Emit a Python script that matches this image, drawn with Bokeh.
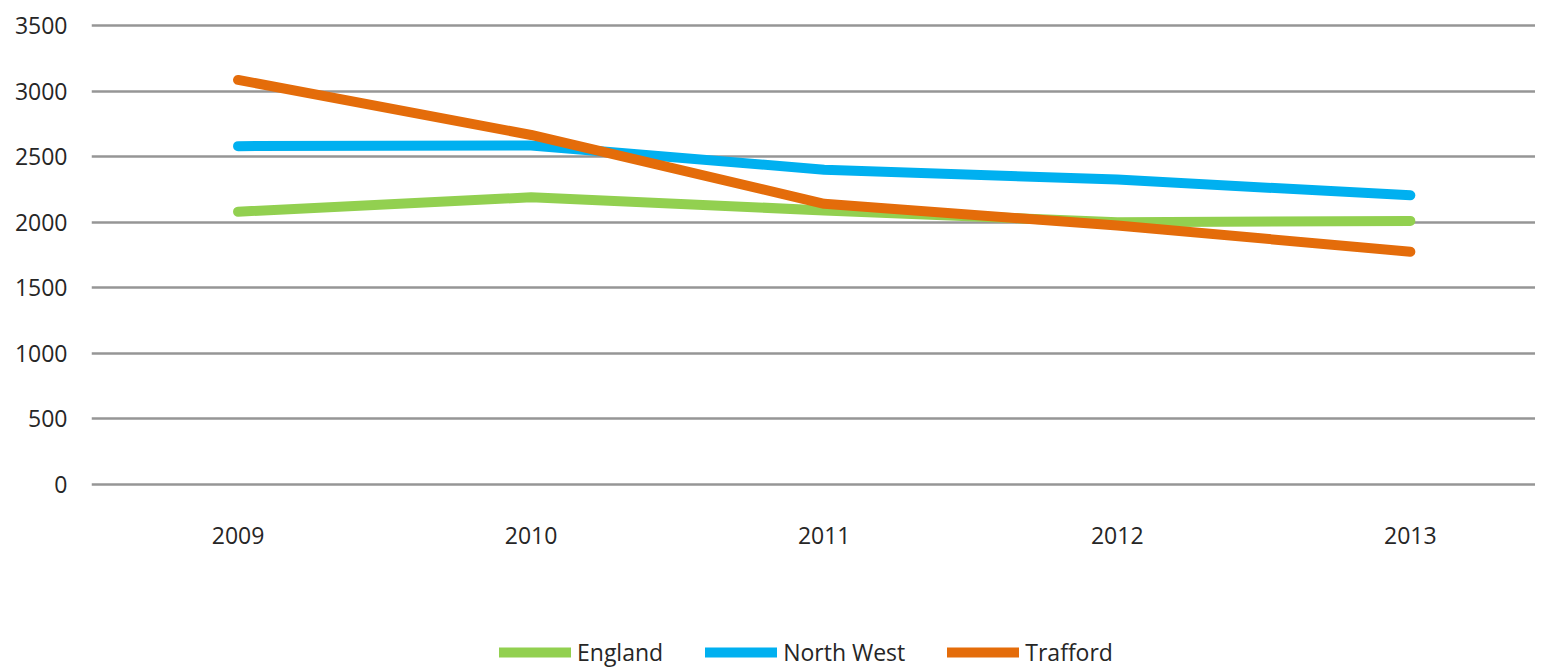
from bokeh.plotting import figure
from bokeh.models import Range1d, FixedTicker, Legend, LegendItem
from bokeh.layouts import column
from bokeh.embed import file_html
from bokeh.resources import INLINE

years = ["2009", "2010", "2011", "2012", "2013"]
england = [2080, 2190, 2090, 2000, 2010]
north_west = [2580, 2585, 2400, 2325, 2205]
trafford = [3085, 2665, 2140, 1975, 1775]
y_ticks = [0, 500, 1000, 1500, 2000, 2500, 3000, 3500]
series_names = ["England", "North West", "Trafford"]
series_colors = ["#92D050", "#00B0F0", "#E46C0A"]

FONT = "Open Sans"
xs = list(range(len(years)))

p = figure(width=1535, height=586, output_backend="svg", toolbar_location=None,
           x_range=Range1d(-0.5, 4.427), y_range=Range1d(-15, 3515),
           min_border_left=91, min_border_right=0, min_border_top=23, min_border_bottom=100)
p.outline_line_color = None
p.background_fill_color = "white"
p.border_fill_color = "white"

for vals, col in zip([england, north_west, trafford], series_colors):
    p.line(xs, vals, line_color=col, line_width=10, line_cap="round", line_join="round")

p.xgrid.grid_line_color = None
p.ygrid.grid_line_color = "#969696"
p.ygrid.grid_line_width = 2.5
p.yaxis.ticker = FixedTicker(ticks=y_ticks)
p.xaxis.ticker = FixedTicker(ticks=xs)
p.xaxis.major_label_overrides = {i: y for i, y in enumerate(years)}

for ax in (p.xaxis[0], p.yaxis[0]):
    ax.axis_line_color = None
    ax.major_tick_line_color = None
    ax.minor_tick_line_color = None
    ax.major_tick_out = 0
    ax.major_tick_in = 0
    ax.major_label_text_font = FONT
    ax.major_label_text_font_size = "23px"
    ax.major_label_text_color = "#262626"
p.xaxis.major_label_standoff = 40
p.yaxis.major_label_standoff = 24

# legend strip below the chart (its lines fall outside its own range, only the legend shows)
lg = figure(width=1535, height=84, output_backend="svg", toolbar_location=None,
            x_range=Range1d(0, 1), y_range=Range1d(-2, -1),
            min_border_left=91, min_border_right=0, min_border_top=0, min_border_bottom=0)
lg.outline_line_color = None
lg.axis.visible = False
lg.grid.visible = False
items = []
for name, vals, col in zip(series_names, [england, north_west, trafford], series_colors):
    r = lg.line(x=xs, y=vals, line_color=col, line_width=10, line_cap="round")
    items.append(LegendItem(label=name, renderers=[r]))
legend = Legend(items=items, orientation="horizontal", location=(408, 2),
                glyph_width=72, glyph_height=26, label_height=26, label_standoff=6, spacing=42,
                padding=0, margin=0, border_line_color=None, background_fill_alpha=0,
                label_text_font=FONT, label_text_font_size="23px", label_text_color="#262626")
lg.add_layout(legend, "center")

layout = column(p, lg, spacing=0)
open("out.html", "w").write(file_html(layout, INLINE))
